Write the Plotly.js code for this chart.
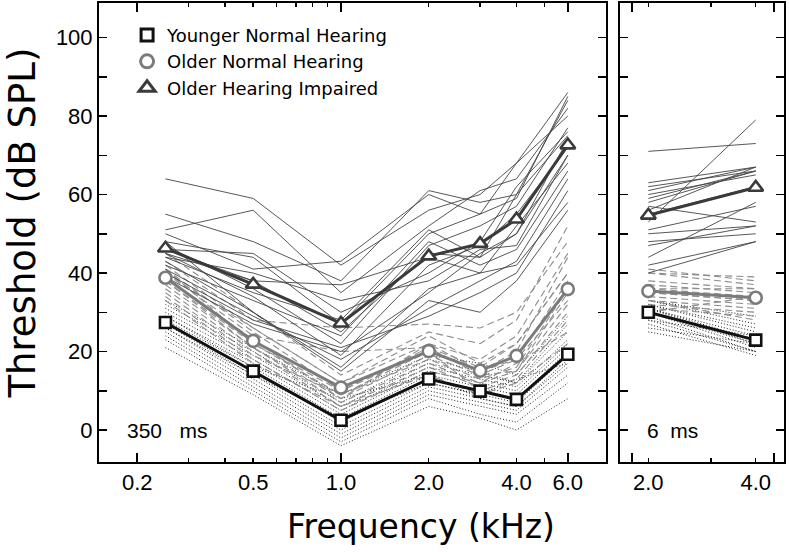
<!DOCTYPE html>
<html>
<head>
<meta charset="utf-8">
<script src="https://cdn.plot.ly/plotly-3.0.1.min.js"></script>
<style>html,body{margin:0;padding:0;background:#fff;}#chart{width:789px;height:552px;}</style>
</head>
<body>
<div id="chart"></div>
<script>
// ---------- data ----------
const freqs350 = [0.25, 0.5, 1, 2, 3, 4, 6];
const freqs6 = [2, 4];

const ynhMean350 = [27.4, 15.0, 2.5, 13.0, 9.9, 7.8, 19.3];
const onhMean350 = [38.8, 22.7, 10.8, 20.1, 15.1, 18.9, 35.9];
const ohiMean350 = [46.3, 37.1, 27.2, 44.3, 47.5, 53.7, 72.6];

const ynhMean6 = [30.0, 22.9];
const onhMean6 = [35.4, 33.7];
const ohiMean6 = [54.7, 61.8];

const ohiSubjects350 = [
  [64, 59, 42, 56, 60, 68, 86], [55, 48, 38, 61, 58, 60, 84], [51, 56, 35, 52, 61, 64, 82],
  [50, 41, 43, 60, 55, 59, 85], [48, 44, 27, 50, 55, 68, 80], [47, 36, 22, 47, 52, 57, 77],
  [46, 45, 30, 40, 48, 62, 76], [46, 38, 25, 45, 44, 50, 74], [45, 34, 19, 42, 47, 55, 72],
  [44, 40, 33, 38, 46, 47, 70], [43, 30, 16, 36, 40, 52, 68], [42, 33, 24, 48, 42, 46, 66],
  [41, 29, 18, 31, 38, 43, 64], [40, 28, 21, 29, 35, 40, 61], [45, 38, 37, 44, 40, 42, 58],
  [48, 30, 15, 33, 30, 38, 56], [44, 35, 28, 51, 44, 60, 75], [39, 27, 20, 35, 45, 50, 70]
];
const onhSubjects350 = [
  [45, 30, 14, 25, 22, 28, 52], [43, 28, 26, 27, 26, 30, 48], [42, 26, 12, 22, 18, 24, 45],
  [41, 25, 10, 20, 15, 20, 44], [40, 24, 20, 21, 16, 22, 40], [39, 23, 8, 19, 14, 18, 38],
  [38, 22, 9, 18, 13, 16, 36], [37, 21, 7, 17, 12, 15, 35], [36, 20, 6, 16, 11, 14, 30],
  [35, 19, 9, 20, 10, 13, 28], [34, 18, 5, 15, 12, 17, 25], [40, 26, 12, 24, 17, 22, 40],
  [33, 17, 6, 14, 9, 12, 22], [38, 21, 8, 22, 15, 18, 33], [41, 22, 10, 21, 14, 15, 32]
];
const ynhSubjects350 = [
  [33, 21, 9, 19, 17, 14, 29], [32, 20, 7, 18, 15, 12, 27], [31, 19, 6, 17, 14, 12, 25],
  [30, 18, 5, 16, 13, 11, 23], [29, 17, 4, 15, 12, 10, 22], [28, 16, 3, 14, 11, 9, 21],
  [27, 15, 2, 13, 10, 8, 20], [27, 14, 1, 12, 9, 7, 19], [26, 13, 0, 11, 8, 6, 17],
  [25, 12, -1, 10, 7, 5, 16], [24, 11, -2, 9, 6, 4, 14], [23, 10, -3, 8, 4, 2, 12],
  [21, 9, -4, 6, 3, 0, 8], [29, 16, 8, 14, 8, 6, 18], [26, 14, 3, 12, 9, 13, 17]
];

const ohiSubjects6 = [
  [71, 73], [63, 67], [62, 66], [61, 67], [59, 66], [57, 53], [56, 67], [53, 79], [50, 52],
  [48, 50], [58, 66], [51, 57], [42, 48], [40, 48], [55, 62], [47, 52], [60, 65], [44, 58]
];
const onhSubjects6 = [
  [41, 38], [40, 39], [38, 36], [37, 35], [36, 34], [35, 33], [34, 32], [33, 31],
  [32, 30], [31, 29], [30, 34], [36, 36], [33, 28], [35, 33], [40, 37]
];
const ynhSubjects6 = [
  [33, 29], [33, 27], [32, 26], [32, 25], [31, 24], [31, 23], [31, 22], [30, 22],
  [30, 21], [29, 20], [28, 20], [27, 19], [26, 22], [28, 24], [25, 20]
];

const groupNames = ['Younger Normal Hearing', 'Older Normal Hearing', 'Older Hearing Impaired'];
const xTickVals350 = [0.2, 0.5, 1, 2, 4, 6];
const xTickText350 = ['0.2', '0.5', '1.0', '2.0', '4.0', '6.0'];
const xMinor350 = [0.3, 0.4, 0.6, 0.7, 0.8, 0.9, 3, 5];
const xLong350 = [0.2, 1, 6];
const xTickVals6 = [2, 4];
const xTickText6 = ['2.0', '4.0'];
const xMinor6 = [3];
const xLong6 = [1.8, 4.5];
const yTickVals = [0, 10, 20, 30, 40, 50, 60, 70, 80, 90, 100];
const yTickText = ['0', '', '20', '', '40', '', '60', '', '80', '', '100'];

// ---------- styles ----------
const colYNH = '#111111', colONH = '#7b7b7b', colOHI = '#3a3a3a';

function flatten(freqs, subjects) {
  const x = [], y = [];
  subjects.forEach(s => { s.forEach((v, i) => { x.push(freqs[i]); y.push(v); }); x.push(null); y.push(null); });
  return {x, y};
}
function indiv(freqs, subjects, xa, ya, line) {
  const f = flatten(freqs, subjects);
  return {x: f.x, y: f.y, xaxis: xa, yaxis: ya, mode: 'lines', line: line,
          showlegend: false, hoverinfo: 'skip', connectgaps: false};
}
function meanTrace(freqs, vals, xa, ya, color, symbol, size) {
  return {x: freqs, y: vals, xaxis: xa, yaxis: ya, mode: 'lines+markers',
          line: {color: color, width: 3},
          marker: {symbol: symbol, size: size, color: '#ffffff', line: {color: color, width: 2.6}},
          showlegend: false, hoverinfo: 'skip'};
}
const lOHI = {color: '#444444', width: 0.9};
const lONH = {color: '#8c8c8c', width: 1.1, dash: '7px,4px'};
const lYNH = {color: '#222222', width: 1, dash: '1px,2px'};

const traces = [
  indiv(freqs350, ynhSubjects350, 'x', 'y', lYNH),
  indiv(freqs350, onhSubjects350, 'x', 'y', lONH),
  indiv(freqs350, ohiSubjects350, 'x', 'y', lOHI),
  indiv(freqs6, ynhSubjects6, 'x2', 'y2', lYNH),
  indiv(freqs6, onhSubjects6, 'x2', 'y2', lONH),
  indiv(freqs6, ohiSubjects6, 'x2', 'y2', lOHI),
  meanTrace(freqs350, ohiMean350, 'x', 'y', colOHI, 'triangle-up', 13),
  meanTrace(freqs350, onhMean350, 'x', 'y', colONH, 'circle', 12),
  meanTrace(freqs350, ynhMean350, 'x', 'y', colYNH, 'square', 11),
  meanTrace(freqs6, ohiMean6, 'x2', 'y2', colOHI, 'triangle-up', 13),
  meanTrace(freqs6, onhMean6, 'x2', 'y2', colONH, 'circle', 12),
  meanTrace(freqs6, ynhMean6, 'x2', 'y2', colYNH, 'square', 11),
  // dummy traces to host the overlay (long-tick) axes
  {x: [null], y: [null], xaxis: 'x3', yaxis: 'y', mode: 'markers', showlegend: false, hoverinfo: 'skip'},
  {x: [null], y: [null], xaxis: 'x4', yaxis: 'y2', mode: 'markers', showlegend: false, hoverinfo: 'skip'}
];
// legend-only entries (marker symbols only)
const legendSpecs = [[colYNH, 'square', 12], [colONH, 'circle', 13], [colOHI, 'triangle-up', 14]];
legendSpecs.forEach((s, i) => {
  traces.push({x: [null], y: [null], xaxis: 'x', yaxis: 'y', mode: 'markers', name: groupNames[i],
    marker: {symbol: s[1], size: s[2], color: '#ffffff', line: {color: s[0], width: 3}},
    showlegend: true, hoverinfo: 'skip'});
});

const tickFont = {family: 'Liberation Sans, Arial, sans-serif', size: 22, color: '#000'};
const yRange = [-8.15, 108.8];
const dom1 = [0, 0.7401], dom2 = [0.7606, 1];

const baseX = {type: 'log', showgrid: false, zeroline: false, ticks: 'inside', tickwidth: 1.5,
  tickcolor: '#000', mirror: 'ticks', showline: true, linecolor: '#000', linewidth: 2,
  tickfont: tickFont, tickmode: 'array', ticklen: 4, ticklabelstandoff: 0};

const NB = '\u00A0';
const layout = {
  width: 789, height: 552,
  margin: {l: 99, r: 5, t: 3, b: 90, pad: 0},
  paper_bgcolor: '#fff', plot_bgcolor: '#fff',
  showlegend: true,
  legend: {x: 0.041, y: 0.97, xanchor: 'left', yanchor: 'top', bgcolor: 'rgba(0,0,0,0)',
           font: {family: 'DejaVu Sans, sans-serif', size: 18, color: '#000'}, tracegroupgap: 0},
  xaxis: Object.assign({}, baseX, {domain: dom1, anchor: 'y', range: [-0.830, 0.909],
    tickvals: xTickVals350, ticktext: xTickText350,
    minor: {tickmode: 'array', tickvals: xMinor350, ticks: 'inside', ticklen: 4, tickwidth: 1.5, tickcolor: '#000'}}),
  xaxis3: {type: 'log', overlaying: 'x', anchor: 'y', range: [-0.830, 0.909], tickmode: 'array',
    tickvals: xLong350, ticks: 'inside', ticklen: 9, tickwidth: 1.5, tickcolor: '#000',
    showticklabels: false, showgrid: false, zeroline: false, showline: false, mirror: 'ticks'},
  xaxis2: Object.assign({}, baseX, {domain: dom2, anchor: 'y2', range: [0.2217, 0.6813],
    tickvals: xTickVals6, ticktext: xTickText6,
    minor: {tickmode: 'array', tickvals: xMinor6, ticks: 'inside', ticklen: 4, tickwidth: 1.5, tickcolor: '#000'}}),
  xaxis4: {type: 'log', overlaying: 'x2', anchor: 'y2', range: [0.2217, 0.6813], tickmode: 'array',
    tickvals: xLong6, ticks: 'inside', ticklen: 9, tickwidth: 1.5, tickcolor: '#000',
    showticklabels: false, showgrid: false, zeroline: false, showline: false, mirror: 'ticks'},
  yaxis: {domain: [0, 1], anchor: 'x', range: yRange, tickmode: 'array', tickvals: yTickVals, ticktext: yTickText,
    ticks: 'inside', ticklen: 8, tickwidth: 1.5, tickcolor: '#000', showline: true, linewidth: 2, linecolor: '#000',
    mirror: 'ticks', showgrid: false, zeroline: false, tickfont: tickFont, ticklabelstandoff: 0},
  yaxis2: {domain: [0, 1], anchor: 'x2', range: yRange, tickmode: 'array', tickvals: yTickVals,
    ticks: 'inside', ticklen: 8, tickwidth: 1.5, tickcolor: '#000', showline: true, linewidth: 2, linecolor: '#000',
    mirror: 'ticks', showgrid: false, zeroline: false, showticklabels: false},
  annotations: [
    {text: 'Frequency (kHz)', xref: 'paper', yref: 'paper', x: 0.470, y: -0.1416, xanchor: 'center', yanchor: 'middle',
     showarrow: false, font: {family: 'DejaVu Sans, sans-serif', size: 33, color: '#000'}},
    {text: 'Threshold (dB SPL)', xref: 'paper', yref: 'paper', x: -0.112, y: 0.52, xanchor: 'center', yanchor: 'middle',
     textangle: -90, showarrow: false, font: {family: 'DejaVu Sans, sans-serif', size: 37, color: '#000'}},
    {text: '350' + NB + NB + NB + 'ms', xref: 'paper', yref: 'paper', x: 0.038, y: 0.0697, xanchor: 'left', yanchor: 'middle',
     showarrow: false, font: {family: 'Liberation Sans, Arial, sans-serif', size: 21, color: '#000'}},
    {text: '6' + NB + NB + 'ms', xref: 'paper', yref: 'paper', x: 0.797, y: 0.0697, xanchor: 'left', yanchor: 'middle',
     showarrow: false, font: {family: 'Liberation Sans, Arial, sans-serif', size: 21, color: '#000'}}
  ]
};

Plotly.newPlot('chart', traces, layout, {staticPlot: true, displayModeBar: false});
</script>
</body>
</html>
